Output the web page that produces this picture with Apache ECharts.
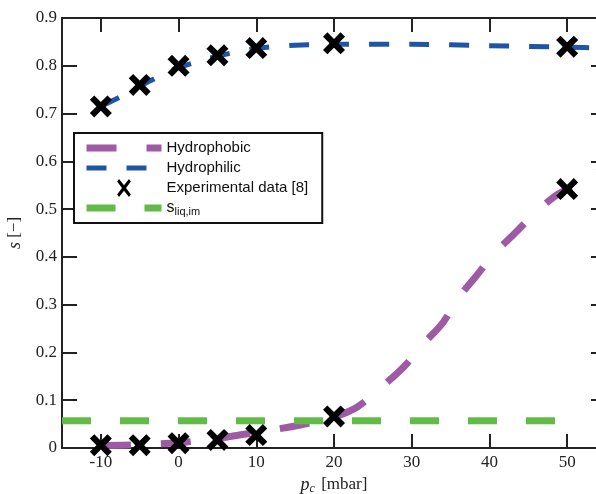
<!DOCTYPE html>
<html>
<head>
<meta charset="utf-8">
<script src="https://cdn.jsdelivr.net/npm/echarts@6/dist/echarts.min.js"></script>
<style>html,body{margin:0;padding:0;background:#fff;}#c{width:596px;height:494px;}</style>
</head>
<body>
<div id="c"></div>
<script>
// ---- data ----
const xTicks = [-10, 0, 10, 20, 30, 40, 50];
const hydrophobicX = [-10, -5, 0, 5, 10, 15, 20, 23, 26, 29, 31.5, 34, 36, 38.2, 40.7, 43.3, 46, 48.7, 52, 55];
const hydrophobicY = [0.005, 0.007, 0.011, 0.02, 0.033, 0.046, 0.065, 0.086, 0.126, 0.17, 0.218, 0.262, 0.314, 0.358, 0.408, 0.45, 0.494, 0.53, 0.558, 0.588];
const hydrophilicX = [-10, -7.5, -5, -2.5, 0, 5, 10, 15, 20, 30, 40, 50, 55];
const hydrophilicY = [0.715, 0.735, 0.757, 0.778, 0.796, 0.82, 0.836, 0.843, 0.845, 0.845, 0.842, 0.839, 0.837];
const expX = [-10, -5, 0, 5, 10, 20, 50, -10, -5, 0, 5, 10, 20, 50];
const expY = [0.715, 0.76, 0.80, 0.822, 0.837, 0.847, 0.84, 0.006, 0.006, 0.01, 0.017, 0.027, 0.066, 0.542];
const sliqX = [-15, 50];
const sliqY = [0.057, 0.057];

const zip = (a, b) => a.map((v, i) => [v, b[i]]);
const XPATH = 'path://M0,20 L20,0 L50,30 L80,0 L100,20 L70,50 L100,80 L80,100 L50,70 L20,100 L0,80 L30,50 Z';
const XPATH_NARROW = 'path://M0,12 L9,0 L32.5,29 L56,0 L65,12 L42,42.5 L65,73 L56,85 L32.5,56 L9,85 L0,73 L23,42.5 Z';
const axisCol = '#222';
const serif = "'Liberation Serif', 'DejaVu Serif', serif";
const sans = "'Liberation Sans', Arial, sans-serif";

const chart = echarts.init(document.getElementById('c'), null, {renderer: 'canvas'});
chart.setOption({
  animation: false,
  backgroundColor: '#fff',
  grid: {left: 62, top: 18, width: 544, height: 430, containLabel: false, outerBoundsMode: 'none'},
  xAxis: [{
    type: 'value', min: -15, max: 55, position: 'bottom',
    axisLine: {onZero: false, lineStyle: {color: axisCol, width: 2}},
    axisTick: {inside: true, length: 14, lineStyle: {color: axisCol, width: 2}, customValues: xTicks},
    axisLabel: {customValues: xTicks, color: axisCol, fontFamily: serif, fontSize: 17, margin: 6},
    splitLine: {show: false},
    name: '{i|p}{sub|c} [mbar]', nameLocation: 'middle', nameGap: 26,
    nameTextStyle: {color: axisCol, fontFamily: serif, fontSize: 17,
      rich: {i: {fontStyle: 'italic', fontFamily: serif, fontSize: 18, color: axisCol},
             sub: {fontStyle: 'italic', fontFamily: serif, fontSize: 12, verticalAlign: 'bottom', padding: [8, 2, 0, 0], color: axisCol}}}
  }, {
    type: 'value', min: -15, max: 55, position: 'top',
    axisLine: {onZero: false, lineStyle: {color: axisCol, width: 2}},
    axisTick: {inside: true, length: 14, lineStyle: {color: axisCol, width: 2}, customValues: xTicks},
    axisLabel: {show: false}, splitLine: {show: false}
  }],
  yAxis: [{
    type: 'value', min: 0, max: 0.9, interval: 0.1, position: 'left',
    axisLine: {onZero: false, lineStyle: {color: axisCol, width: 2}},
    axisTick: {inside: true, length: 15, lineStyle: {color: axisCol, width: 2}},
    axisLabel: {color: axisCol, fontFamily: serif, fontSize: 17, margin: 5,
      formatter: v => (Math.abs(v) < 1e-9 ? '0' : (+v).toFixed(1))},
    splitLine: {show: false},
    name: '{i|s} [−]', nameLocation: 'middle', nameGap: 38, nameRotate: 90,
    nameTextStyle: {color: axisCol, fontFamily: serif, fontSize: 17,
      rich: {i: {fontStyle: 'italic', fontFamily: serif, fontSize: 18, color: axisCol}}}
  }, {
    type: 'value', min: 0, max: 0.9, interval: 0.1, position: 'right',
    axisLine: {onZero: false, lineStyle: {color: axisCol, width: 2}},
    axisTick: {inside: true, length: 15, lineStyle: {color: axisCol, width: 2}},
    axisLabel: {show: false}, splitLine: {show: false}
  }],
  legend: {
    orient: 'vertical', left: 74, top: 133, width: 248,
    backgroundColor: '#fff', borderColor: '#111', borderWidth: 2, borderRadius: 0,
    padding: [6, 14, 6, 9], itemWidth: 75, itemHeight: 18, itemGap: 2,
    symbolKeepAspect: true,
    textStyle: {fontFamily: sans, fontSize: 15, color: '#111', lineHeight: 18,
      rich: {n: {fontFamily: sans, fontSize: 16, color: '#111'},
             sub: {fontFamily: sans, fontSize: 11, color: '#111', verticalAlign: 'bottom', padding: [8, 0, 0, 0]}}},
    formatter: name => name === 'sliq' ? '{n|s}{sub|liq,im}' : name,
    data: [
      {name: 'Hydrophobic', lineStyle: {width: 7}, itemStyle: {opacity: 0}},
      {name: 'Hydrophilic', lineStyle: {width: 5}, itemStyle: {opacity: 0}},
      {name: 'Experimental data [8]', icon: XPATH_NARROW, itemStyle: {color: '#000', opacity: 1}},
      {name: 'sliq', lineStyle: {width: 7}, itemStyle: {opacity: 0}}
    ]
  },
  series: [{
    name: 'Hydrophobic', type: 'line', data: zip(hydrophobicX, hydrophobicY), smooth: 0.3,
    symbol: 'none', lineStyle: {color: '#9f5aa5', width: 7, type: [30, 30], cap: 'butt'},
    itemStyle: {color: '#9f5aa5'}, z: 2
  }, {
    name: 'Hydrophilic', type: 'line', data: zip(hydrophilicX, hydrophilicY), smooth: 0.3,
    symbol: 'none', lineStyle: {color: '#1f55a7', width: 5, type: [20, 20], cap: 'butt'},
    itemStyle: {color: '#1f55a7'}, z: 2
  }, {
    name: 'sliq', type: 'line', data: zip(sliqX, sliqY),
    symbol: 'none', lineStyle: {color: '#63bb47', width: 7, type: [29, 29], cap: 'butt'},
    itemStyle: {color: '#63bb47'}, z: 2
  }, {
    name: 'Experimental data [8]', type: 'scatter', data: zip(expX, expY),
    symbol: XPATH, symbolSize: 22, itemStyle: {color: '#000', opacity: 1}, z: 5
  }]
});
</script>
</body>
</html>
